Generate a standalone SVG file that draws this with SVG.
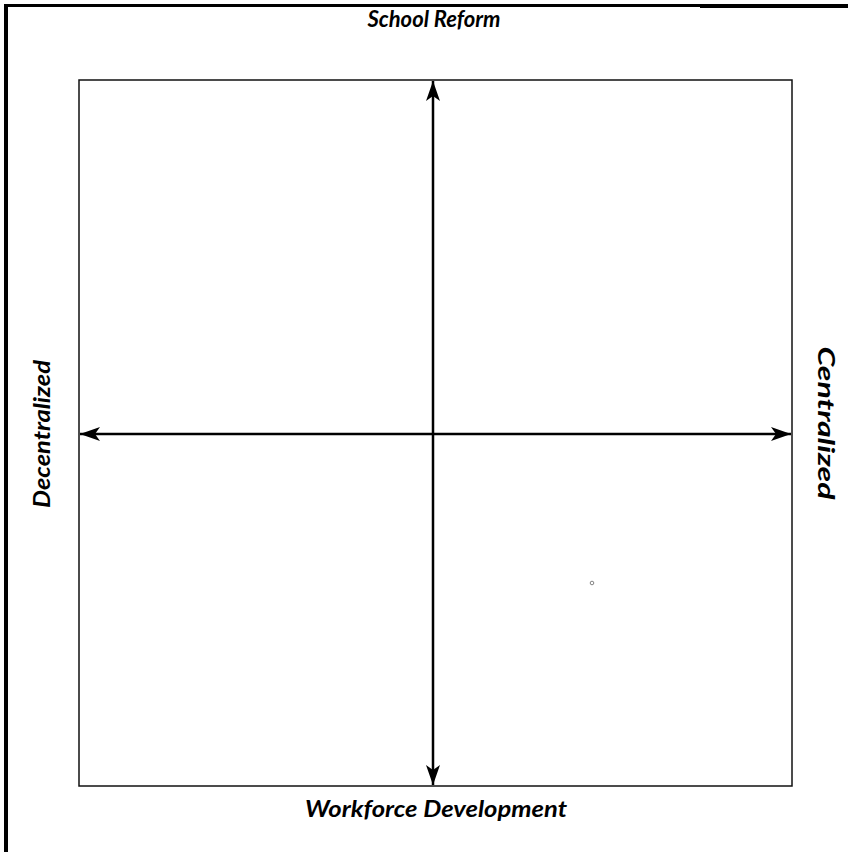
<svg xmlns="http://www.w3.org/2000/svg" width="848" height="852" viewBox="0 0 848 852">
<style>
.lbl{font-family:"Lato","Open Sans","Liberation Sans",sans-serif;font-weight:bold;font-style:italic;font-size:22px;fill:#000;text-anchor:middle}
.ax{stroke:#000;stroke-width:2.5;fill:none}
</style>
<defs>
<marker id="ah" viewBox="0 0 20 14" refX="20" refY="7" markerWidth="20" markerHeight="14" markerUnits="userSpaceOnUse" orient="auto-start-reverse">
<path d="M0,0 L20,7 L0,14 L5,7 Z" fill="#000"/>
</marker>
</defs>
<rect width="848" height="852" fill="#fff"/>
<g id="frame">
<line x1="6" y1="4" x2="6" y2="852" stroke="#000" stroke-width="4"/>
<line x1="4" y1="5.5" x2="700" y2="5.5" stroke="#000" stroke-width="3"/>
<line x1="700" y1="6" x2="848" y2="6" stroke="#000" stroke-width="4"/>
</g>
<g id="box">
<rect x="79" y="80" width="713" height="706" fill="none" stroke="#111" stroke-width="1.5"/>
</g>
<g id="connectors">
<line class="ax" x1="433" y1="434" x2="433" y2="81" marker-end="url(#ah)"/>
<line class="ax" x1="433" y1="434" x2="433" y2="785" marker-end="url(#ah)"/>
<line class="ax" x1="433" y1="434" x2="80" y2="434" marker-end="url(#ah)"/>
<line class="ax" x1="433" y1="434" x2="791" y2="434" marker-end="url(#ah)"/>
</g>
<g id="label-top"><text class="lbl" x="434" y="27">School Reform</text></g>
<g id="label-bottom"><text class="lbl" x="436" y="817" textLength="262" lengthAdjust="spacingAndGlyphs">Workforce Development</text></g>
<g id="label-left"><text class="lbl" transform="translate(50,434) rotate(-90)" textLength="148" lengthAdjust="spacingAndGlyphs">Decentralized</text></g>
<g id="label-right"><text class="lbl" transform="translate(818,423) rotate(90)" textLength="153" lengthAdjust="spacingAndGlyphs">Centralized</text></g>
<circle cx="592" cy="583" r="1.8" fill="none" stroke="#666" stroke-width="0.8"/>
</svg>
